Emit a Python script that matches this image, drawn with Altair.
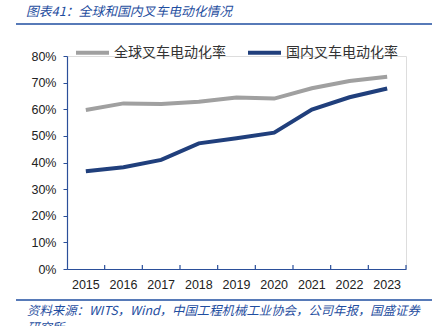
import altair as alt
import pandas as pd

years = ["2015", "2016", "2017", "2018", "2019", "2020", "2021", "2022", "2023"]
global_rate = [0.597, 0.622, 0.620, 0.628, 0.644, 0.640, 0.679, 0.706, 0.722]
china_rate = [0.367, 0.382, 0.410, 0.472, 0.491, 0.512, 0.599, 0.645, 0.678]
series_names = ["全球叉车电动化率", "国内叉车电动化率"]
series_colors = ["#A0A0A0", "#203F7C"]
title_text = "图表41：全球和国内叉车电动化情况"
source_lines = ["资料来源：WITS，Wind，中国工程机械工业协会，公司年报，国盛证券", "研究所"]

rows = []
for y, g, c in zip(years, global_rate, china_rate):
    rows.append({"year": y, "series": series_names[0], "value": g})
    rows.append({"year": y, "series": series_names[1], "value": c})
df = pd.DataFrame(rows)
years_df = pd.DataFrame({"year": years})

W, H = 339, 213
BLUE = "#1F4EA0"
AXIS = "#2B4F9A"
FONT = "Liberation Sans"
CJK = "Noto Sans CJK SC"

xscale = alt.Scale(domain=years, paddingInner=0, paddingOuter=0)

lines = alt.Chart(df).mark_line(strokeWidth=4).encode(
    x=alt.X("year:N", scale=xscale, bandPosition=0.5,
            axis=alt.Axis(title=None, labelAngle=0, ticks=False, domainColor=AXIS,
                          domainWidth=1.2, labelFont=FONT, labelFontSize=12.5,
                          labelColor="#222222", labelPadding=9)),
    y=alt.Y("value:Q", scale=alt.Scale(domain=[0, 0.8]),
            axis=alt.Axis(title=None, format=".0%", values=[0, 0.1, 0.2, 0.3, 0.4, 0.5, 0.6, 0.7, 0.8],
                          grid=False, domainColor=AXIS, domainWidth=1.2, tickColor=AXIS,
                          tickSize=4, labelPadding=7, labelFont=FONT, labelFontSize=12.5,
                          labelColor="#222222")),
    color=alt.Color("series:N", scale=alt.Scale(domain=series_names, range=series_colors),
                    legend=alt.Legend(title=None, orient="none", legendX=7, legendY=-22,
                                      direction="horizontal", symbolType="stroke",
                                      symbolSize=1089, symbolStrokeWidth=4,
                                      labelFont=CJK, labelFontSize=14, labelColor="#333333",
                                      labelOffset=3, columnPadding=14)),
)

xticks = alt.Chart(years_df).mark_rule(color=AXIS, strokeWidth=1.2).encode(
    x=alt.X("year:N", scale=xscale, bandPosition=1),
    y=alt.value(H - 4),
    y2=alt.value(H),
)

title = alt.Chart(pd.DataFrame({"t": [title_text]})).mark_text(
    align="left", baseline="middle", font=CJK, fontSize=12.8, fontStyle="italic", color=BLUE
).encode(text="t:N", x=alt.value(-41), y=alt.value(-44))

top_rule = alt.Chart(pd.DataFrame({"a": [0]})).mark_rule(color=BLUE, strokeWidth=1.5).encode(
    x=alt.value(-51), x2=alt.value(365), y=alt.value(-32))
bottom_rule = alt.Chart(pd.DataFrame({"a": [0]})).mark_rule(color=BLUE, strokeWidth=1.5).encode(
    x=alt.value(-51), x2=alt.value(365), y=alt.value(244))

source = alt.Chart(pd.DataFrame({"t": [source_lines]})).mark_text(
    align="left", baseline="middle", font=CJK, fontSize=12.4, fontStyle="italic", color=BLUE,
    lineHeight=17
).encode(text="t", x=alt.value(-40), y=alt.value(255))

chart = alt.layer(lines, xticks, title, top_rule, bottom_rule, source).properties(
    width=W, height=H,
    autosize=alt.AutoSizeParams(type="none"),
    padding={"left": 67, "top": 56, "right": 39, "bottom": 57},
).configure_view(stroke=None).configure(background="white")

chart.save("out.html", embed_options={"renderer": "svg", "actions": False})
